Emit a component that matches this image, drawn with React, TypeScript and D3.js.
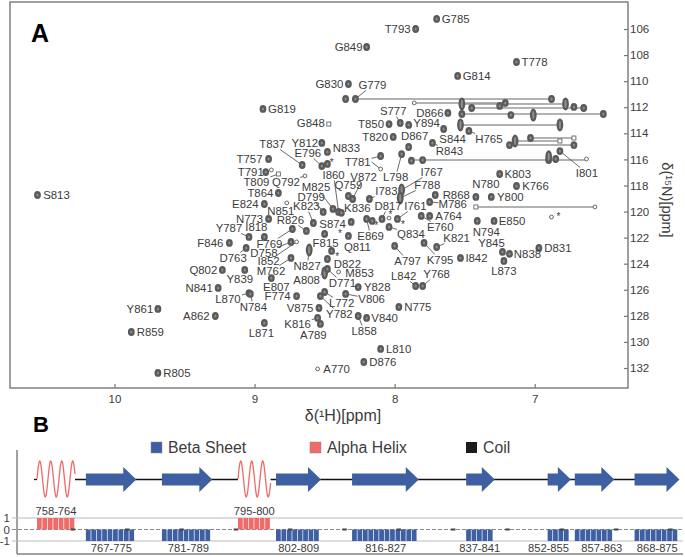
import React, { useEffect, useRef } from "react";
import * as d3 from "d3";

const width = 685;
const height = 557;
const frame = { left: 10, right: 628, top: 2, bottom: 388 };
const font = "'Liberation Sans', Arial, sans-serif";

// assigned backbone peaks: residue, 1H ppm, 15N ppm
const peaks: [string, number, number][] = [
  ["S813", 10.55, 118.73], ["G819", 8.94, 112.13], ["G848", 8.47, 113.29], ["Y812", 8.52, 114.74],
  ["N833", 8.48, 115.43], ["T837", 8.66, 116.43], ["E796", 8.52, 116.51], ["T757", 8.9, 115.97],
  ["T791", 8.92, 116.97], ["T809", 8.83, 117.12], ["Q792", 8.64, 117.27], ["T864", 8.83, 118.58],
  ["E824", 8.93, 119.42], ["N851", 8.77, 119.34], ["Q759", 8.33, 118.81], ["V872", 8.3, 119.04],
  ["M825", 8.44, 119.8], ["D799", 8.51, 120.03], ["K823", 8.58, 120.88], ["I860", 8.4, 120.03],
  ["K836", 8.38, 120.1], ["S874", 8.5, 121.72], ["R826", 8.63, 121.49], ["N773", 8.9, 120.57],
  ["Y787", 9.04, 121.95], ["I818", 8.93, 121.95], ["F769", 8.73, 121.34], ["F846", 9.18, 122.41],
  ["D758", 8.74, 122.33], ["I852", 8.7, 122.33], ["D763", 9.06, 122.79], ["M762", 8.74, 123.56],
  ["E807", 8.88, 125.1], ["Q802", 9.23, 124.48], ["Y839", 9.07, 124.48], ["N841", 9.26, 125.86],
  ["L870", 9.04, 126.25], ["N784", 9.03, 126.32], ["F774", 8.7, 126.48], ["A862", 9.28, 128.01],
  ["Y861", 9.69, 127.47], ["R859", 9.88, 129.24], ["R805", 9.69, 132.38], ["L871", 8.93, 128.55],
  ["V875", 8.54, 127.4], ["K816", 8.55, 128.16], ["A789", 8.53, 128.62], ["A770", 8.55, 132.07],
  ["N827", 8.61, 122.95], ["F815", 8.45, 123.02], ["D822", 8.48, 123.64], ["A808", 8.5, 124.71],
  ["D771", 8.48, 124.4], ["M853", 8.4, 124.63], ["L772", 8.5, 126.17], ["Y782", 8.53, 126.48],
  ["Y828", 8.26, 125.79], ["V806", 8.35, 126.32], ["N775", 7.97, 127.32], ["L858", 8.26, 128.01],
  ["V840", 8.2, 128.16], ["L810", 8.1, 130.54], ["D876", 8.22, 131.54], ["E869", 8.2, 120.57],
  ["Q811", 8.33, 121.87], ["D817", 8.09, 120.57], ["I761", 7.98, 120.57], ["Q834", 8.04, 121.18],
  ["E760", 7.81, 120.34], ["A764", 7.75, 120.34], ["K821", 7.7, 122.72], ["K795", 7.79, 122.41],
  ["A797", 8.0, 122.64], ["I842", 7.53, 123.56], ["N794", 7.41, 120.72], ["E850", 7.29, 120.72],
  ["Y845", 7.23, 123.1], ["N838", 7.18, 123.25], ["L873", 7.22, 123.79], ["D831", 6.97, 122.79],
  ["L842", 7.85, 125.71], ["Y768", 7.8, 125.71], ["G785", 7.7, 105.23], ["T793", 7.85, 106.0],
  ["G849", 8.2, 107.38], ["T778", 7.13, 108.53], ["G814", 7.55, 109.6], ["G830", 8.33, 110.22],
  ["G779", 8.28, 111.37], ["S777", 7.96, 113.21], ["D866", 7.62, 112.44], ["T850", 8.04, 113.29],
  ["Y894", 7.9, 113.36], ["T820", 8.01, 114.28], ["D867", 7.9, 115.05], ["S844", 7.65, 113.67],
  ["H765", 7.47, 113.82], ["R843", 7.73, 114.74], ["I801", 6.82, 115.36], ["T781", 8.1, 115.74],
  ["L798", 7.95, 115.59], ["K803", 7.25, 117.12], ["K766", 7.13, 118.04], ["I767", 7.95, 118.35],
  ["F788", 7.96, 118.96], ["I783", 8.18, 119.04], ["R868", 7.71, 118.73], ["M786", 7.75, 119.27],
  ["N780", 7.42, 118.88], ["Y800", 7.31, 118.88],
];
const openNames = ["Q792", "A770", "M853", "I852", "N851"];
const squareNames = ["T809", "G848"];
const tallNames = ["I767", "F788", "N827", "A808"];

// label centre relative to the peak, px; third item draws a leader
const labelLayout: Record<string, [number, number, number?]> = {
  S813: [19, 0], G819: [19, 0], G848: [-18, -1], Y812: [-17, 0], N833: [19, -4], T837: [-30, -21, 1],
  E796: [-14, -13, 1], T757: [-19, 0], T791: [-15, 0], T809: [-22, 8, 1], Q792: [-19, 6, 1], T864: [-18, 0],
  E824: [-19, 0], N851: [-6, 8], Q759: [0, -11], V872: [11, -22, 1], M825: [-17, -22, 1], D799: [-12, -15, 1],
  K823: [-7, -17, 1], I860: [-5, -37, 1], K836: [16, -5], S874: [8, -10], R826: [-16, -11, 1], N773: [-19, 0],
  Y787: [-20, -9, 1], I818: [-8, -10], F769: [-23, 15, 1], F846: [-19, 0], D758: [-27, 11, 1], I852: [-28, 19, 1],
  D763: [-13, 10, 1], M762: [-20, 13, 1], E807: [5, 9], Q802: [-19, 0], Y839: [-5, 9], N841: [-19, 0],
  L870: [-21, 6, 1], N784: [3, 13, 1], F774: [-19, 0], A862: [-19, 0], Y861: [-18, 0], R859: [19, 0],
  R805: [19, 0], L871: [-3, 10], V875: [-19, 0], K816: [-20, 6, 1], A789: [-7, 11], A770: [19, 0],
  N827: [-2, 16, 1], F815: [-6, -8], D822: [20, 5], A808: [-18, 7, 1], D771: [15, 14, 1], M853: [21, 1],
  L772: [17, 11, 1], Y782: [19, 18, 1], Y828: [19, 0], V806: [26, 5, 1], N775: [19, 0], L858: [6, 15, 1],
  V840: [18, 0], L810: [18, 0], D876: [19, 0], E869: [4, 17, 1], Q811: [9, 11], D817: [6, -13, 1],
  I761: [18, -13, 1], Q834: [22, 7, 1], E760: [19, 11, 1], A764: [19, 0], K821: [20, -9, 1], K795: [16, 17, 1],
  A797: [13, 15, 1], I842: [16, 0], N794: [9, 11], E850: [18, 0], Y845: [-11, -9], N838: [18, 0],
  L873: [0, 10], D831: [19, 0], L842: [-12, -10, 1], Y768: [14, -12, 1], G785: [19, 0], T793: [-18, 0],
  G849: [-18, 0], T778: [18, 0], G814: [19, 0], G830: [-19, 0], G779: [17, -14, 1], S777: [-7, -12, 1],
  D866: [-18, 0], T850: [-18, 0], Y894: [18, -2], T820: [-18, 0], D867: [6, -11], S844: [9, 10],
  H765: [20, 8, 1], R843: [17, 8, 1], I801: [27, 22, 1], T781: [-23, 6, 1], L798: [-6, 23, 1], K803: [18, 0],
  K766: [19, 0], I767: [30, -18, 1], F788: [27, -13, 1], I783: [17, -8, 1], R868: [21, 0], M786: [23, 2, 1],
  N780: [10, -13], Y800: [19, 0],
};

// side chain pairs: 15N, 1H start, 1H end
const sideChains: [number, number, number][] = [
  [111.37, 8.28, 6.88], [111.67, 7.86, 7.21], [111.75, 7.52, 6.78], [112.06, 7.45, 6.65],
  [112.52, 7.52, 6.51], [113.36, 7.53, 6.82], [114.36, 7.03, 6.72], [114.59, 7.14, 6.82],
  [114.9, 7.18, 6.72], [116.05, 7.88, 6.63], [119.65, 7.42, 6.57],
];
const unassignedPeaks: [number, number][] = [
  [8.35, 111.37], [8.31, 120.8], [8.48, 116.35], [8.16, 120.72], [6.88, 111.37], [7.21, 111.67],
  [7.45, 112.06], [6.65, 112.06], [6.72, 111.98], [7.25, 111.9], [7.52, 112.52], [6.51, 112.52],
  [7.17, 112.6], [7.03, 114.36], [7.18, 114.9], [6.72, 114.9], [7.88, 116.1], [7.8, 116.05],
  [6.9, 116.05], [6.85, 115.97],
];
const unassignedTall: [number, number][] = [
  [7.52, 111.75], [6.78, 111.75], [7.01, 112.6], [7.53, 113.36], [6.82, 113.36], [7.14, 114.59], [6.9, 115.8],
];
const openPeaks: [number, number][] = [
  [7.86, 111.67], [6.63, 115.97], [6.57, 119.65], [8.1, 116.74], [8.88, 116.81], [6.88, 120.42], [8.04, 120.5],
];
const squarePeaks: [number, number][] = [[6.72, 114.36], [6.82, 114.59], [7.42, 119.65]];
const starMarks: [number, number][] = [
  [8.45, 116.2], [8.13, 121.1], [6.83, 120.34], [8.03, 120.19], [7.94, 120.95], [8.39, 121.64], [8.41, 123.41],
];
const xTicks = [10, 9, 8, 7];
const yTicks = [106, 108, 110, 112, 114, 116, 118, 120, 122, 124, 126, 128, 130, 132];

// secondary structure
const helices: [number, number][] = [[758, 764], [795, 800]];
const strands: [number, number][] = [
  [767, 775], [781, 789], [802, 809], [816, 827], [837, 841], [852, 855], [857, 863], [868, 875],
];
const strandLabelShift = [1, 2, 1, 1, 0, -10, 8, 1];
const residueMarks = [764, 774, 784, 794, 804, 814, 824, 834, 844, 854, 864, 874];
const ssTicks = [1, 0, -1];

const xH = d3.scaleLinear().domain([10, 7]).range([114.5, 534.7]);
const yN = d3.scaleLinear().domain([106, 132]).range([29, 368]);
const xRes = d3.scaleLinear().domain([758, 876]).range([37, 678]);
const ySS = d3.scaleLinear().domain([1, -1]).range([518, 541]);

const blue = "#3f5fa3";
const red = "#ef6a68";
const ink = "#3c3c3c";
const axisGrey = "#777";

function Peak({ x, y, tall }: { x: number; y: number; tall?: boolean }) {
  const ry = tall ? 6.5 : 3.9;
  return (
    <g transform={`translate(${x},${y})`}>
      <ellipse rx={3.4} ry={ry} fill="#5a5a5a" />
      <ellipse rx={1.1} ry={ry - 2.4} fill="#8e8e8e" />
    </g>
  );
}

function OpenPeak({ x, y }: { x: number; y: number }) {
  return <circle cx={x} cy={y} r={1.9} fill="#fff" stroke="#666" strokeWidth={1} />;
}

function SquarePeak({ x, y }: { x: number; y: number }) {
  return <rect x={x - 2} y={y - 2} width={4} height={4} fill="#fff" stroke="#666" strokeWidth={0.9} />;
}

// where a leader stops: the edge of the label box, seen from the peak
function leaderEnd(dx: number, dy: number) {
  const t = Math.min(1, 14 / Math.abs(dx || 1), 5.5 / Math.abs(dy || 1));
  return [dx * (1 - t), dy * (1 - t)];
}

function helixPath(a: number, b: number) {
  const x0 = xRes(a);
  const x1 = xRes(b + 1);
  const samples = d3.range(0, 1.001, 0.01);
  const periods = (x1 - x0) / 11;
  return d3
    .line<number>()
    .x((t) => x0 + t * (x1 - x0))
    .y((t) => 479 - 18 * Math.sin(t * periods * 2 * Math.PI))(samples) as string;
}

function arrowPath(a: number, b: number) {
  const x0 = xRes(a);
  const tip = xRes(b + 1) + 1.5;
  const neck = tip - 13;
  const c = 479.5;
  return `M${x0},${c - 6}L${neck},${c - 6}L${neck},${c - 12.5}L${tip},${c}L${neck},${c + 12.5}L${neck},${c + 6}L${x0},${c + 6}Z`;
}

export default function App() {
  const xAxisRef = useRef<SVGGElement>(null);
  const yAxisRef = useRef<SVGGElement>(null);

  useEffect(() => {
    const style = (g: any) => {
      g.select(".domain").remove();
      g.selectAll("line").attr("stroke", axisGrey).attr("stroke-width", 1.2);
      g.selectAll("text").attr("fill", ink).style("font-family", font).style("font-size", "11.5px");
    };
    d3.select(xAxisRef.current as SVGGElement)
      .call(d3.axisBottom(xH).tickValues(xTicks).tickFormat(d3.format("d") as any).tickSizeInner(-4).tickSizeOuter(0).tickPadding(7))
      .call(style);
    d3.select(yAxisRef.current as SVGGElement)
      .call(d3.axisRight(yN).tickValues(yTicks).tickSizeInner(-4).tickSizeOuter(0).tickPadding(2))
      .call(style);
  }, []);

  const t781 = peaks.find((p) => p[0] === "T781")!;

  return (
    <svg width={width} height={height} style={{ position: "absolute", left: 0, top: 0, background: "#fff" }} fontFamily={font}>
      <rect
        x={frame.left}
        y={frame.top}
        width={frame.right - frame.left}
        height={frame.bottom - frame.top}
        fill="none"
        stroke={axisGrey}
        strokeWidth={1.4}
      />
      <g ref={xAxisRef} transform={`translate(0,${frame.bottom})`} />
      <g ref={yAxisRef} transform={`translate(${frame.right},0)`} />

      {sideChains.map((d, i) => (
        <line key={i} x1={xH(d[1])} x2={xH(d[2])} y1={yN(d[0])} y2={yN(d[0])} stroke="#999" strokeWidth={1.4} />
      ))}

      {peaks.map(([name, h, n]) => {
        const layout = labelLayout[name];
        if (!layout || !layout[2]) return null;
        const [ex, ey] = leaderEnd(layout[0], layout[1]);
        return (
          <line key={name} x1={xH(h)} y1={yN(n)} x2={xH(h) + ex} y2={yN(n) + ey} stroke="#444" strokeWidth={0.8} />
        );
      })}
      <line
        x1={xH(t781[1]) - 9}
        y1={yN(t781[2]) + 6}
        x2={xH(8.1)}
        y2={yN(116.74)}
        stroke="#444"
        strokeWidth={0.8}
      />

      {unassignedPeaks.map((d, i) => (
        <Peak key={i} x={xH(d[0])} y={yN(d[1])} />
      ))}
      {unassignedTall.map((d, i) => (
        <Peak key={i} x={xH(d[0])} y={yN(d[1])} tall />
      ))}
      {openPeaks.map((d, i) => (
        <OpenPeak key={i} x={xH(d[0])} y={yN(d[1])} />
      ))}
      {squarePeaks.map((d, i) => (
        <SquarePeak key={i} x={xH(d[0])} y={yN(d[1])} />
      ))}
      {peaks.map(([name, h, n]) => {
        if (squareNames.includes(name)) return <SquarePeak key={name} x={xH(h)} y={yN(n)} />;
        if (openNames.includes(name)) return <OpenPeak key={name} x={xH(h)} y={yN(n)} />;
        return <Peak key={name} x={xH(h)} y={yN(n)} tall={tallNames.includes(name)} />;
      })}

      {peaks.map(([name, h, n]) => {
        const layout = labelLayout[name] || [19, 0];
        return (
          <text
            key={name}
            x={xH(h) + layout[0]}
            y={yN(n) + layout[1]}
            dy="0.36em"
            textAnchor="middle"
            fontSize={11.4}
            fill={ink}
          >
            {name}
          </text>
        );
      })}
      {starMarks.map((d, i) => (
        <text key={i} x={xH(d[0])} y={yN(d[1])} dy="0.36em" textAnchor="middle" fontSize={10} fill={ink}>
          *
        </text>
      ))}

      <text x={31} y={42} fontSize={25} fontWeight="bold" fill="#000">A</text>
      <text x={33} y={432} fontSize={22} fontWeight="bold" fill="#000">B</text>
      <text x={343} y={421} textAnchor="middle" fontSize={16} fill={ink}>
        δ(¹H)[ppm]
      </text>
      <text transform="translate(662,200) rotate(90)" textAnchor="middle" fontSize={14.5} fill={ink}>
        δ(¹⁵N)[ppm]
      </text>

      {/* panel B legend */}
      <rect x={151} y={442} width={11} height={11} fill={blue} stroke="#888" strokeWidth={0.5} />
      <text x={168} y={453} fontSize={15.8} fill={ink}>Beta Sheet</text>
      <rect x={310} y={442} width={11} height={11} fill={red} stroke="#888" strokeWidth={0.5} />
      <text x={327} y={453} fontSize={15.8} fill={ink}>Alpha Helix</text>
      <rect x={466} y={442} width={11} height={11} fill="#1c1c1c" />
      <text x={483} y={453} fontSize={15.8} fill={ink}>Coil</text>

      {/* topology */}
      <line x1={34} x2={37} y1={479.5} y2={479.5} stroke="#111" strokeWidth={1.3} />
      <line x1={xRes(765)} x2={xRes(795)} y1={479.5} y2={479.5} stroke="#111" strokeWidth={1.3} />
      <line x1={xRes(801)} x2={xRes(870)} y1={479.5} y2={479.5} stroke="#111" strokeWidth={1.3} />
      {helices.map(([a, b]) => (
        <path key={a} d={helixPath(a, b)} fill="none" stroke={red} strokeWidth={1.3} />
      ))}
      {strands.map(([a, b]) => (
        <path key={a} d={arrowPath(a, b)} fill={blue} />
      ))}

      {/* per residue prediction */}
      <line x1={17} x2={17} y1={450} y2={554} stroke="#444" strokeWidth={1} />
      <line x1={17} x2={683} y1={554} y2={554} stroke="#444" strokeWidth={1} />
      {ssTicks.map((t) => (
        <g key={t}>
          <line
            x1={12}
            x2={683}
            y1={ySS(t)}
            y2={ySS(t)}
            stroke={t === 0 ? "#888" : "#bbb"}
            strokeWidth={1}
            strokeDasharray={t === 0 ? "4 2" : undefined}
          />
          <text x={10} y={ySS(t)} dy="0.36em" textAnchor="end" fontSize={11.5} fill={ink}>
            {t}
          </text>
        </g>
      ))}
      {helices.map(([a, b]) =>
        d3.range(a, b + 1).map((r) => (
          <rect key={r} x={xRes(r)} y={ySS(1)} width={xRes(r + 1) - xRes(r) - 0.7} height={ySS(0) - ySS(1)} fill={red} />
        ))
      )}
      {strands.map(([a, b]) =>
        d3.range(a, b + 1).map((r) => (
          <rect key={r} x={xRes(r)} y={ySS(0)} width={xRes(r + 1) - xRes(r) - 0.7} height={ySS(-1) - ySS(0)} fill={blue} />
        ))
      )}
      {residueMarks.map((r) => (
        <rect key={r} x={xRes(r + 0.2)} y={ySS(0) - 1} width={4.5} height={2} fill="#444" />
      ))}
      {helices.map(([a, b]) => (
        <text key={a} x={(xRes(a) + xRes(b + 1)) / 2} y={511} dy="0.36em" textAnchor="middle" fontSize={11.2} fill={ink}>
          {`${a}-${b}`}
        </text>
      ))}
      {strands.map(([a, b], i) => (
        <text
          key={a}
          x={(xRes(a) + xRes(b + 1)) / 2 + strandLabelShift[i]}
          y={548}
          dy="0.36em"
          textAnchor="middle"
          fontSize={11.2}
          fill={ink}
        >
          {`${a}-${b}`}
        </text>
      ))}
    </svg>
  );
}
